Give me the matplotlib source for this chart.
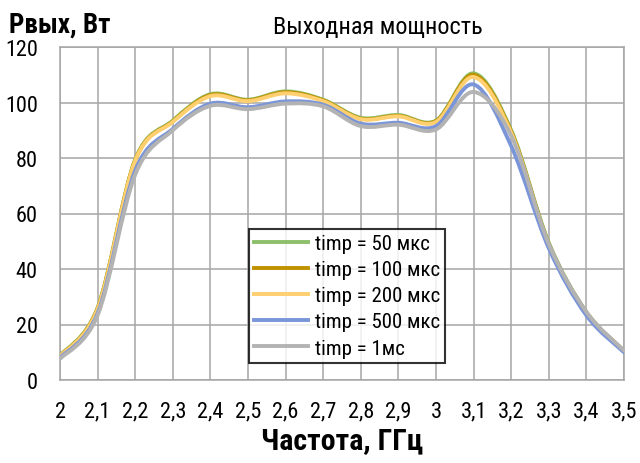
import numpy as np
import matplotlib
matplotlib.use('Agg')
from matplotlib import pyplot as plt
from matplotlib.path import Path
from matplotlib.patches import PathPatch
from matplotlib.lines import Line2D

# частота, ГГц
freq = [2.0, 2.1, 2.2, 2.3, 2.4, 2.5, 2.6, 2.7, 2.8, 2.9, 3.0, 3.1, 3.2, 3.3, 3.4, 3.5]
freq_labels = ['2', '2,1', '2,2', '2,3', '2,4', '2,5', '2,6', '2,7', '2,8', '2,9',
               '3', '3,1', '3,2', '3,3', '3,4', '3,5']

# выходная мощность, Вт
p_50 = [8.8, 26.0, 79.5, 93.5, 103.0, 101.0, 104.0, 101.0, 94.5, 95.5, 93.5, 110.5, 90.0, 49.5, 24.5, 10.5]
p_100 = [8.6, 25.8, 79.2, 93.2, 102.7, 100.8, 103.7, 100.8, 94.2, 95.2, 93.3, 110.0, 89.5, 49.0, 24.3, 10.4]
p_200 = [8.5, 25.5, 79.0, 93.0, 102.3, 100.5, 103.3, 100.5, 94.0, 95.0, 93.0, 109.2, 89.0, 48.5, 24.0, 10.3]
p_500 = [8.0, 24.0, 75.5, 90.5, 99.6, 98.3, 100.4, 99.2, 92.4, 92.7, 91.5, 106.5, 84.3, 47.5, 23.3, 10.0]
p_1ms = [7.6, 23.3, 74.0, 90.0, 98.8, 97.6, 99.6, 98.6, 91.5, 92.0, 90.3, 103.8, 88.0, 49.0, 24.5, 10.6]

names = ['timp = 50 мкс', 'timp = 100 мкс', 'timp = 200 мкс', 'timp = 500 мкс', 'timp = 1мс']
colors = ['#8CBF6A', '#C09200', '#FFCF70', '#7A95D8', '#B3B3B3']

plt.rcParams['font.family'] = ['Roboto Condensed', 'DejaVu Sans']


def smooth_path(x, y):
    # сглаженная линия как в Excel (кривые Безье)
    pts = np.column_stack([x, y])
    n = len(pts)
    verts = [pts[0]]
    codes = [Path.MOVETO]
    for i in range(n - 1):
        p0 = pts[i - 1] if i > 0 else pts[i]
        p1 = pts[i]
        p2 = pts[i + 1]
        p3 = pts[i + 2] if i + 2 < n else pts[i + 1]
        verts += [p1 + (p2 - p0) / 6, p2 - (p3 - p1) / 6, p2]
        codes += [Path.CURVE4] * 3
    return Path(verts, codes)


fig = plt.figure(figsize=(6.4, 4.64), dpi=100)
ax = fig.add_axes([60 / 640, 1 - 381 / 464, 564 / 640, 333 / 464])

handles = []
for vals, col, name in zip([p_50, p_100, p_200, p_500, p_1ms], colors, names):
    ax.add_patch(PathPatch(smooth_path(freq, vals), fill=False, edgecolor=col,
                           lw=2.8, capstyle='round', joinstyle='round', zorder=3))
    handles.append(Line2D([], [], color=col, lw=2.8, label=name))

ax.set_xlim(2.0, 3.5)
ax.set_ylim(0, 120)
ax.set_xticks(freq)
ax.set_xticklabels(freq_labels)
ax.set_yticks(range(0, 121, 20))
ax.tick_params(length=0, labelsize=16)
ax.tick_params(axis='x', pad=15)
ax.tick_params(axis='y', pad=16)
ax.grid(True, color='#A6A6A6', lw=1.1)
ax.set_axisbelow(True)
for s in ax.spines.values():
    s.set_color('#A6A6A6')
    s.set_linewidth(1.1)

fig.text(378 / 640, 1 - 27 / 464, 'Выходная мощность', ha='center', va='center', fontsize=17.5)
fig.text(9 / 640, 1 - 25 / 464, 'Рвых, Вт', ha='left', va='center', fontsize=19.5, fontweight='bold')
fig.text(342 / 640, 1 - 441 / 464, 'Частота, ГГц', ha='center', va='center', fontsize=21.5, fontweight='bold')

leg = fig.legend(handles=handles, loc='upper left', bbox_to_anchor=(249 / 640, 1 - 230 / 464),
                 fontsize=15, frameon=True, fancybox=False, borderaxespad=0,
                 handlelength=2.6, handletextpad=0.3, labelspacing=0.34,
                 borderpad=0.25)
leg.get_frame().set_edgecolor('black')
leg.get_frame().set_linewidth(1.5)

fig.savefig('out.png', dpi=100)
